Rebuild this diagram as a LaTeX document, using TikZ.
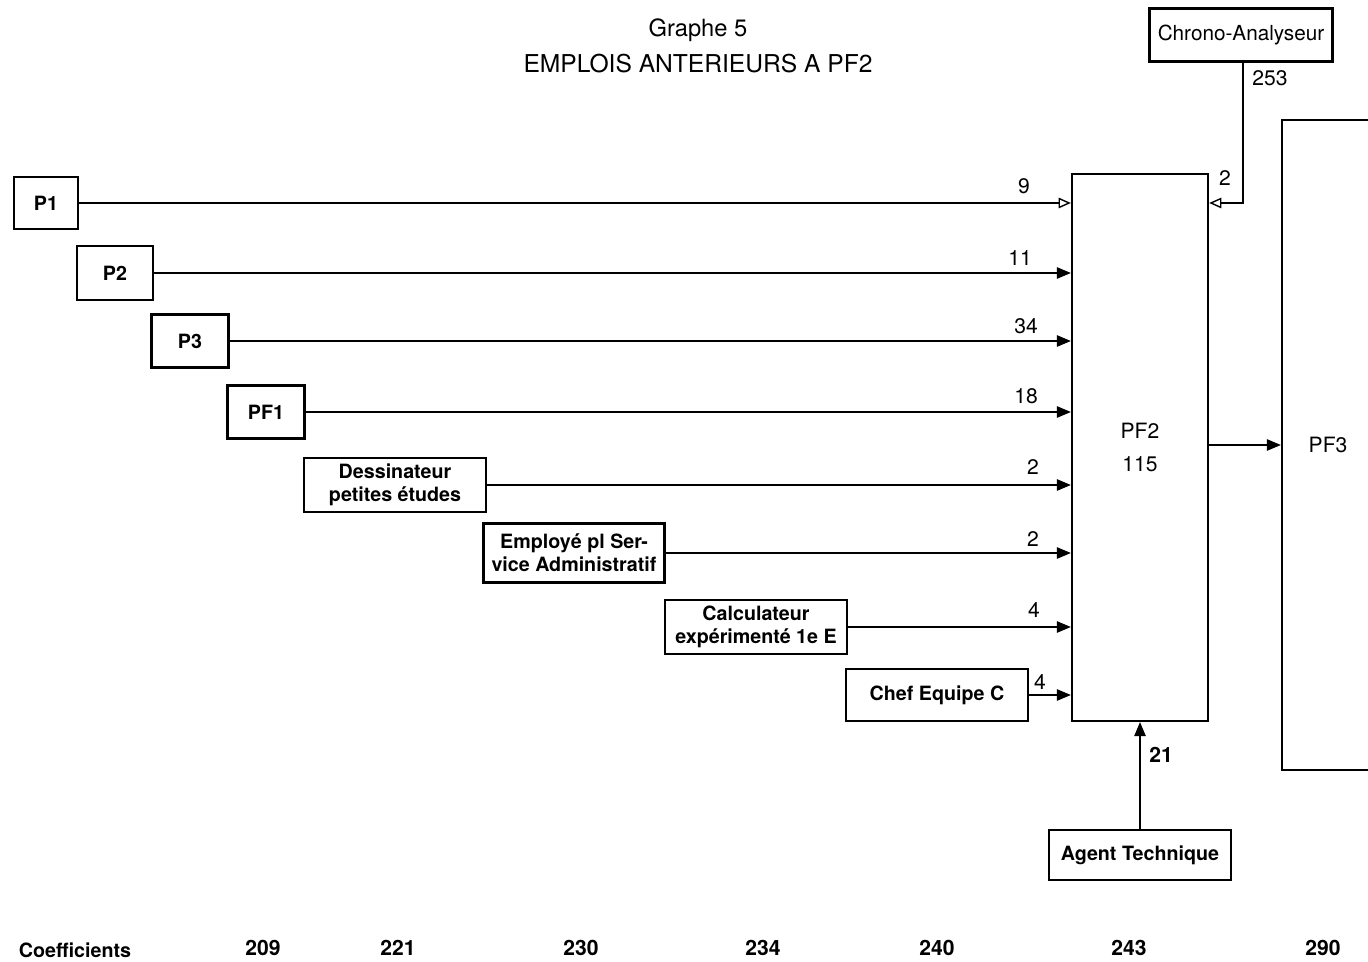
\documentclass[tikz,border=0pt]{standalone}
\usepackage{fontspec}
\setmainfont{TeX Gyre Heros}
\usetikzlibrary{arrows.meta}
\tikzset{
  emploi/.style={draw,line width=1.3pt,inner sep=0pt,align=center,font=\fontsize{11.2}{13}\selectfont\bfseries},
  flux/.style={line width=0.8pt,-{Triangle[length=8pt,width=6.5pt]}},
  fluxvide/.style={line width=0.8pt,-{Triangle[open,length=7pt,width=6pt]}},
  effectif/.style={font=\fontsize{12}{14}\selectfont}
}

\begin{document}
\begin{tikzpicture}[x=0.02cm,y=-0.02cm]
  \useasboundingbox (0,0) rectangle (1368,962);

  % Title
  \node[font=\fontsize{13.5}{16}\selectfont] (titre1) at (698,30) {Graphe 5};
  \node[font=\fontsize{14}{16}\selectfont] (titre2) at (698,64) {EMPLOIS ANTERIEURS A PF2};

  % Central job and the next one
  \node[emploi,minimum width=2.72cm,minimum height=10.94cm,font=\fontsize{12}{16}\selectfont]
    (pf2) at (1140,447.5) {PF2\\[3pt]115};
  \node[emploi,minimum width=1.84cm,minimum height=13cm,font=\fontsize{12}{14}\selectfont]
    (pf3) at (1328,445) {PF3};

  % Previous jobs, stepping down to the right
  \node[emploi,minimum width=1.28cm,minimum height=1.04cm] (p1) at (46,203) {P1};
  \node[emploi,minimum width=1.52cm,minimum height=1.08cm] (p2) at (115,273) {P2};
  \node[emploi,minimum width=1.54cm,minimum height=1.06cm] (p3) at (190,341) {P3};
  \node[emploi,minimum width=1.54cm,minimum height=1.06cm] (pf1) at (266,412) {PF1};
  \node[emploi,minimum width=3.64cm,minimum height=1.08cm] (dessin) at (395,485)
    {Dessinateur\\petites études};
  \node[emploi,minimum width=3.62cm,minimum height=1.18cm] (employe) at (574,553)
    {Employé pl Ser-\\vice Administratif};
  \node[emploi,minimum width=3.64cm,minimum height=1.08cm] (calcul) at (756,627)
    {Calculateur\\expérimenté 1e E};
  \node[emploi,minimum width=3.64cm,minimum height=1.04cm] (chef) at (937,695) {Chef Equipe C};

  % Side inputs
  \node[emploi,minimum width=3.66cm,minimum height=1.06cm,font=\fontsize{11.8}{13}\selectfont]
    (chrono) at (1241,35) {Chrono-Analyseur};
  \node[emploi,minimum width=3.64cm,minimum height=1cm] (agent) at (1140,855) {Agent Technique};
  \coordinate (coude) at (1243,203);

  % Flows into PF2
  \draw[fluxvide] (p1) -- (p1 -| pf2.west);
  \foreach \n in {p2,p3,pf1,dessin,employe,calcul,chef}
    \draw[flux] (\n) -- (\n -| pf2.west);
  \draw[fluxvide] (chrono.south -| coude) -- (coude) -- (coude -| pf2.east);
  \draw[flux] (agent) -- (pf2.south);
  \draw[flux] (pf2.east |- pf3) -- (pf3.west);

  % Counts on the flows
  \node[effectif] (n1) at (1024,186) {9};
  \node[effectif] (n2) at (1020,258) {11};
  \node[effectif] (n3) at (1026,326) {34};
  \node[effectif] (n4) at (1026,396) {18};
  \node[effectif] (n5) at (1033,467) {2};
  \node[effectif] (n6) at (1033,539) {2};
  \node[effectif] (n7) at (1034,610) {4};
  \node[effectif] (n8) at (1040,682) {4};
  \node[effectif] (n9) at (1225,178) {2};
  \node[effectif] (n10) at (1270,78) {253};
  \node[effectif,font=\fontsize{12}{14}\selectfont\bfseries] (n11) at (1161,755) {21};

  % Coefficients row
  \node[font=\fontsize{11.2}{13}\selectfont\bfseries] (coef) at (75,950) {Coefficients};
  \foreach \x/\c in {263/209,398/221,581/230,763/234,937/240,1129/243,1323/290}
    \node[font=\fontsize{12}{14}\selectfont\bfseries] (c\c) at (\x,948) {\c};
\end{tikzpicture}
\end{document}
